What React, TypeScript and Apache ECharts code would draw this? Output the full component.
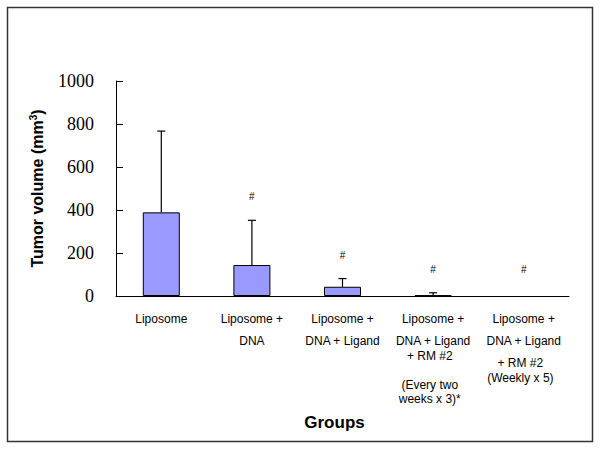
import React, { useEffect, useRef } from "react";
import * as echarts from "echarts";

const categories = [
  "{t|Liposome}",
  "{t|Liposome +}\n{s8| }\n{t|DNA}",
  "{t|Liposome +}\n{s8| }\n{t|DNA + Ligand}",
  "{t|Liposome +}\n{s8| }\n{t|DNA + Ligand}\n{s1| }\n{t|+ RM #2  }\n{s15| }\n{t|(Every two  }\n{t|weeks x 3)*  }",
  "{t|Liposome +}\n{s8| }\n{t|DNA + Ligand}\n{s8| }\n{t|+ RM #2  }\n{s1| }\n{t|(Weekly x 5)  }",
];
const meanValues = [389, 144, 43, 3, 0];
const errorTops = [767, 352, 81, 15, 0];
const hashPositions = [null, 465, 190, 125, 125];
const yTicks = [0, 200, 400, 600, 800, 1000];

export default function App() {
  const ref = useRef<HTMLDivElement>(null);
  useEffect(() => {
    if (!ref.current) return;
    const chart = echarts.init(ref.current, null, { renderer: "svg" });
    const sans = "Arial, 'Liberation Sans', sans-serif";
    chart.setOption({
      animation: false,
      backgroundColor: "#ffffff",
      graphic: [
        {
          type: "rect",
          shape: { x: 7.5, y: 7.5, width: 585, height: 434 },
          style: { fill: "none", stroke: "#333333", lineWidth: 1.5 },
          silent: true,
        },
      ],
      grid: { left: 116, right: 32, top: 81, bottom: 155 },
      xAxis: {
        type: "category",
        data: categories,
        name: "Groups",
        nameLocation: "middle",
        nameGap: 118,
        nameTextStyle: {
          fontFamily: sans,
          fontWeight: "bold",
          fontSize: 17,
          color: "#000",
          padding: [0, 16, 0, 0],
        },
        axisLine: { lineStyle: { color: "#000", width: 1 } },
        axisTick: { inside: true, length: 4, lineStyle: { color: "#000" } },
        axisLabel: {
          interval: 0,
          margin: 16,
          color: "#000",
          rich: {
            t: { fontFamily: sans, fontSize: 12, lineHeight: 14, color: "#000" },
            s1: { fontSize: 1, lineHeight: 1 },
            s8: { fontSize: 1, lineHeight: 8 },
            s15: { fontSize: 1, lineHeight: 15 },
          },
        },
      },
      yAxis: {
        type: "value",
        min: 0,
        max: 1000,
        interval: 200,
        name: "{a|Tumor volume (mm}{s|3}{a|)}",
        nameLocation: "middle",
        nameGap: 70,
        nameTextStyle: {
          rich: {
            a: { fontFamily: sans, fontWeight: "bold", fontSize: 16, color: "#000" },
            s: { fontFamily: sans, fontWeight: "bold", fontSize: 10, color: "#000", verticalAlign: "top", padding: [0, 0, 8, 0] },
          },
        },
        axisLine: { show: true, lineStyle: { color: "#000", width: 1 } },
        axisTick: { show: true, inside: true, length: 7, lineStyle: { color: "#000" } },
        splitLine: { show: false },
        axisLabel: {
          margin: 22,
          fontFamily: "'Liberation Serif', 'Times New Roman', serif",
          fontSize: 18,
          color: "#000",
          formatter: (v: number) => (yTicks.includes(v) ? String(v) : ""),
        },
      },
      series: [
        {
          type: "bar",
          data: meanValues.map((v) =>
            v > 0 ? v : { value: v, itemStyle: { borderWidth: 0, opacity: 0 } }
          ),
          barWidth: 37,
          itemStyle: { color: "#9999ff", borderColor: "#000", borderWidth: 1 },
          z: 2,
        },
        {
          type: "custom",
          data: meanValues.map((m, i) => [i, m, errorTops[i]]),
          z: 3,
          renderItem: (params: any, api: any) => {
            const i = api.value(0);
            const lo = api.value(1);
            const hi = api.value(2);
            if (!(hi > lo)) return null;
            const p0 = api.coord([i, lo]);
            const p1 = api.coord([i, hi]);
            return {
              type: "group",
              children: [
                {
                  type: "line",
                  shape: { x1: p0[0], y1: p0[1], x2: p1[0], y2: p1[1] },
                  style: { stroke: "#000", lineWidth: 1.2 },
                },
                {
                  type: "line",
                  shape: { x1: p1[0] - 4, y1: p1[1], x2: p1[0] + 4, y2: p1[1] },
                  style: { stroke: "#000", lineWidth: 1.2 },
                },
              ],
            };
          },
        },
        {
          type: "custom",
          data: hashPositions.map((h, i) => [i, h]),
          z: 4,
          renderItem: (params: any, api: any) => {
            const v = api.value(1);
            if (v == null || isNaN(v)) return null;
            const p = api.coord([api.value(0), v]);
            return {
              type: "text",
              x: p[0],
              y: p[1],
              style: {
                text: "#",
                fontSize: 10,
                fontFamily: sans,
                fill: "#000",
                align: "center",
                verticalAlign: "middle",
              },
            };
          },
        },
      ],
    });
    return () => chart.dispose();
  }, []);
  return (
    <div
      ref={ref}
      style={{ position: "absolute", left: 0, top: 0, width: 601, height: 451 }}
    />
  );
}
